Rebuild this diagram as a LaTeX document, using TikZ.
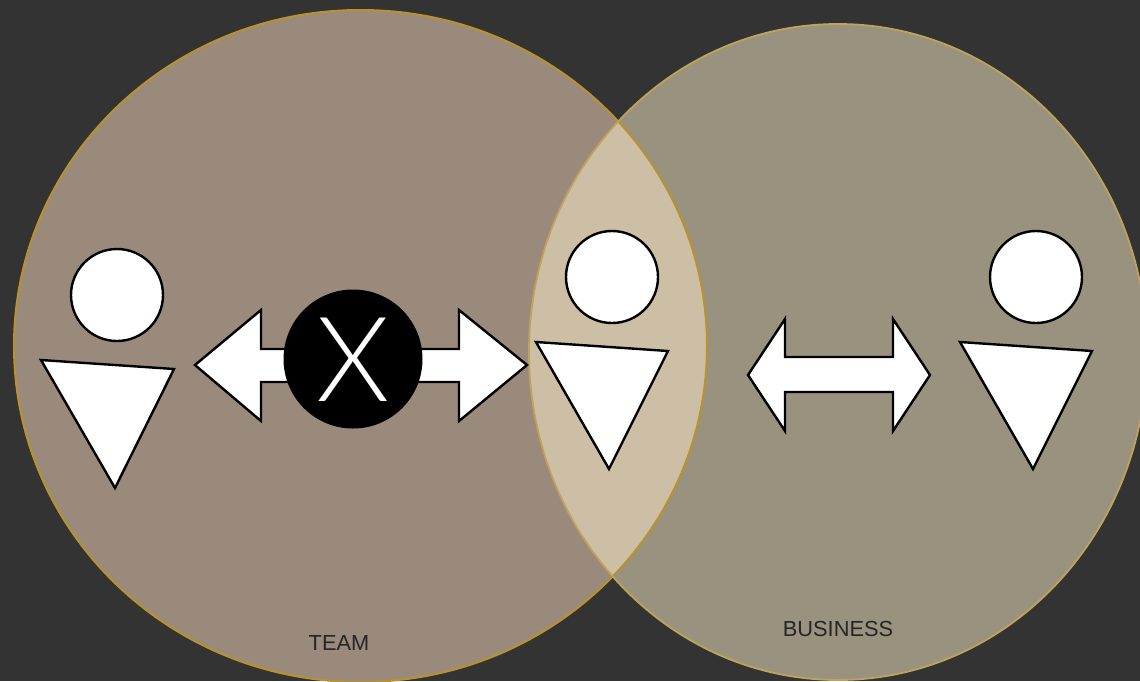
\documentclass[tikz,border=0pt]{standalone}
\usepackage{fontspec}
\setmainfont{Liberation Sans}
\newfontfamily\thinfont{Lato Light}
\definecolor{bgc}{HTML}{333333}
\definecolor{teamc}{HTML}{998A7C}
\definecolor{bizc}{HTML}{99927E}
\definecolor{bothc}{HTML}{CCBFA6}
\definecolor{teamline}{HTML}{B8922E}
\definecolor{bizline}{HTML}{BFA35A}
\tikzset{
  head/.style={draw=black,fill=white,line width=2.4pt,circle,inner sep=0pt,minimum size=92pt},
  body/.style={draw=black,fill=white,line width=2.4pt,line join=miter},
  arrowshape/.style={draw=black,fill=white,line width=2.4pt,line join=miter},
  caption/.style={text=black!85,font=\fontsize{21.8}{23}\selectfont,inner sep=0pt,anchor=center}
}
\begin{document}
\begin{tikzpicture}[x=1pt,y=-1pt]
\useasboundingbox (0,0) rectangle (1140,681);
\fill[bgc] (0,0) rectangle (1140,681);
\def\teamE{(360.5,346) ellipse [x radius=346.5,y radius=336]}
\def\bizE{(838,352) ellipse [x radius=309,y radius=328]}
\fill[teamc] \teamE;
\fill[bizc] \bizE;
\begin{scope}
\clip \teamE;
\fill[bothc] \bizE;
\end{scope}
\draw[teamline,line width=2pt] \teamE;
\draw[bizline,line width=1.8pt] \bizE;
% persons
\node[head] (h1) at (117,295) {};
\draw[body] (41,360) -- (174,369) -- (115,488) -- cycle;
\node[head] (h2) at (612,277) {};
\draw[body] (536,342) -- (668,351) -- (609,469) -- cycle;
\node[head] (h3) at (1036,277) {};
\draw[body] (960,342) -- (1092,351) -- (1033,469) -- cycle;
% arrow through the X
\draw[arrowshape] (195,365) -- (261,310) -- (261,349) -- (459,349) -- (459,310) -- (527,365) -- (459,421) -- (459,382) -- (261,382) -- (261,421) -- cycle;
\node[circle,fill=black,inner sep=0pt,minimum size=139pt] (x) at (353,359) {};
\node[text=white,inner sep=0pt,font=\thinfont\fontsize{118}{118}\selectfont] (xt) at (353.5,360) {X};
% right arrow
\draw[arrowshape] (748,375) -- (785,319) -- (785,357) -- (893,357) -- (893,319) -- (930,375) -- (893,431) -- (893,392) -- (785,392) -- (785,431) -- cycle;
\node[caption] (team) at (339,643) {TEAM};
\node[caption] (biz) at (838,629) {BUSINESS};
\end{tikzpicture}
\end{document}
